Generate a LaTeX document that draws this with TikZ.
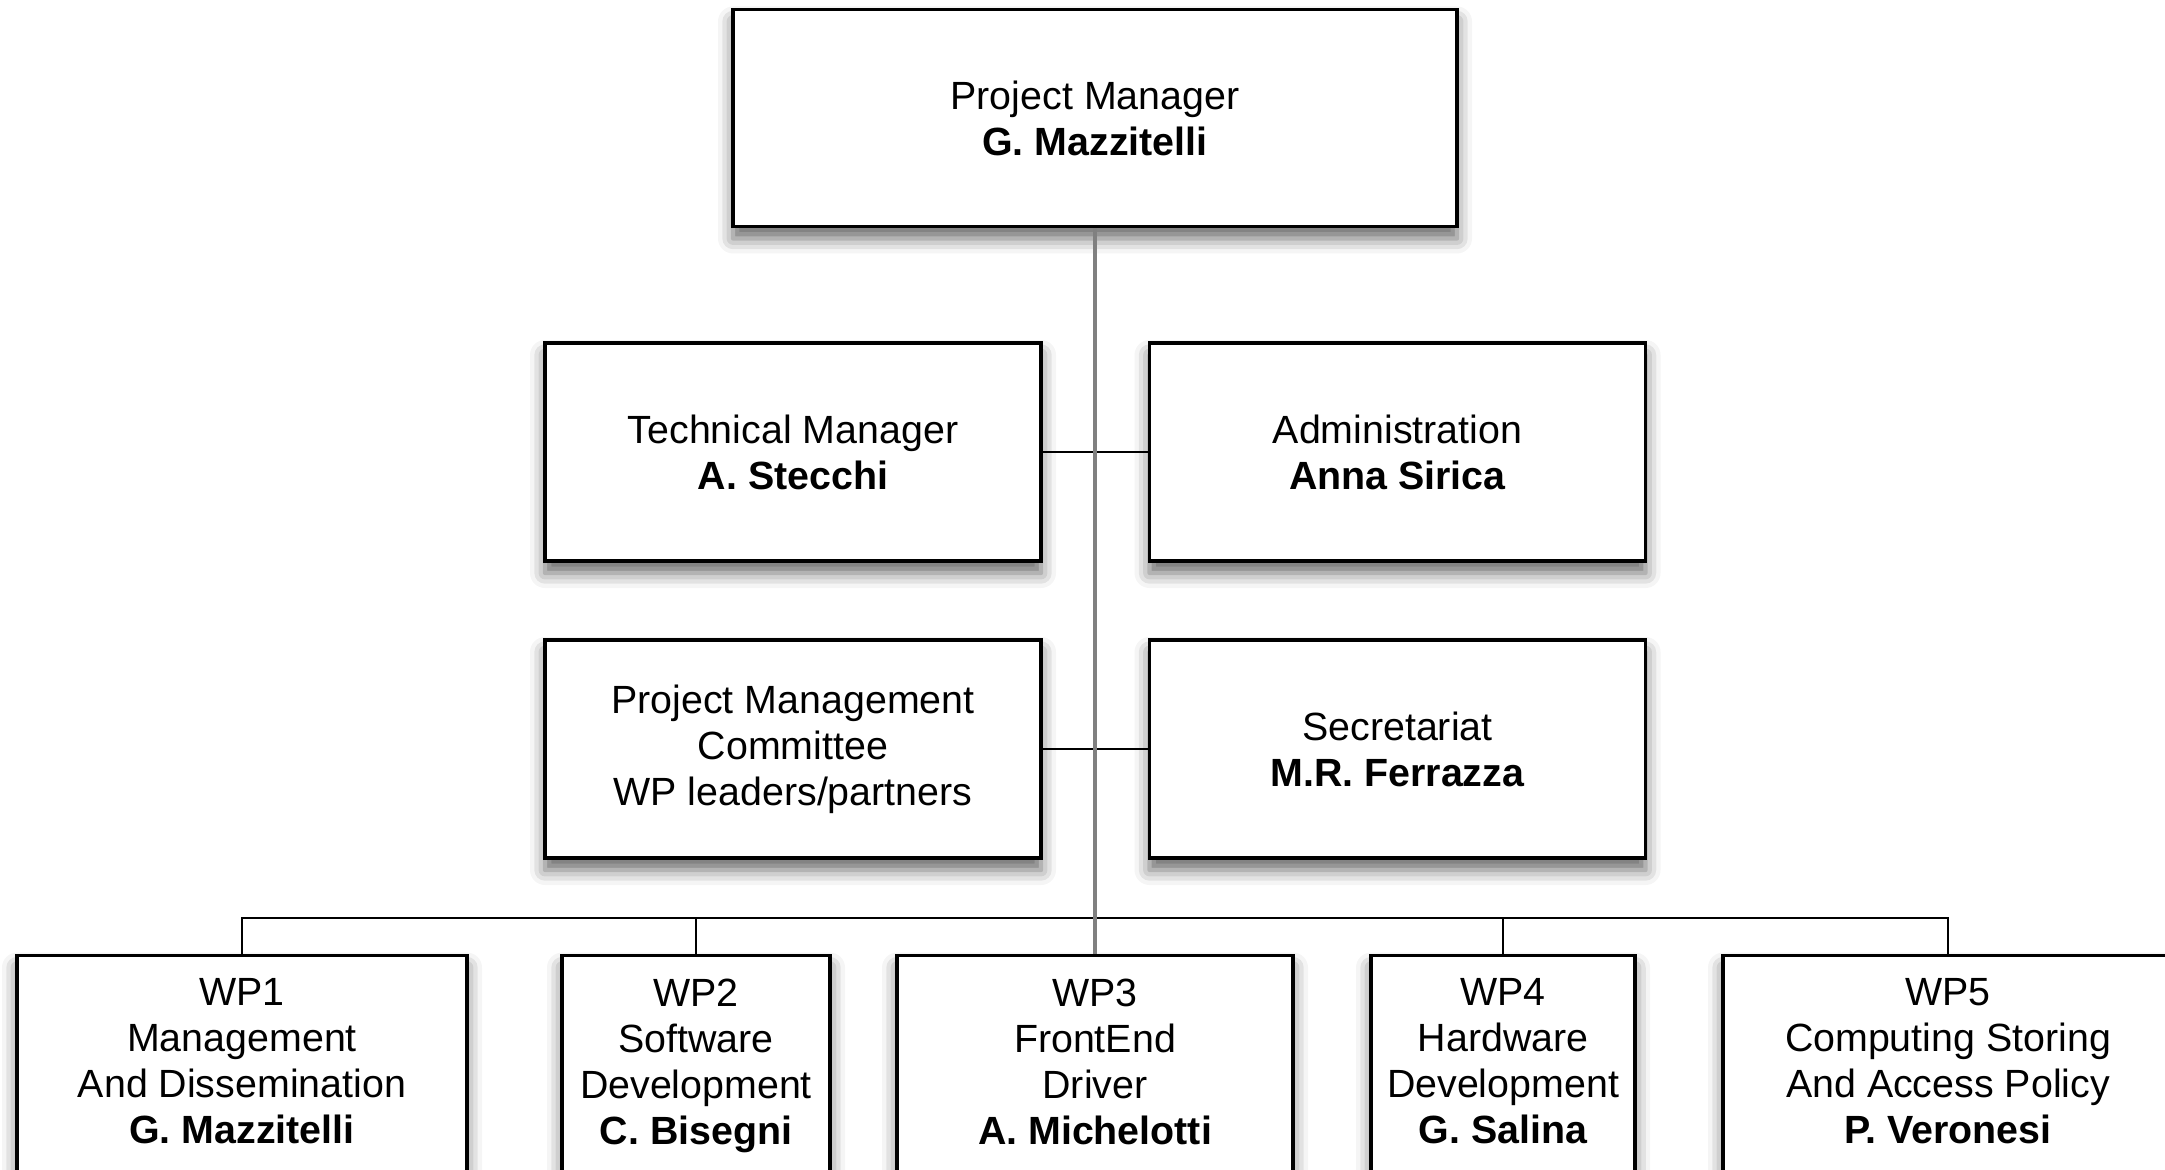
\documentclass[tikz,border=0pt]{standalone}
\usepackage{fontspec}
\setmainfont{Liberation Sans}
\usetikzlibrary{shadows.blur}

\begin{document}
\begin{tikzpicture}[
		box/.style={rectangle, draw, line width=0.9pt, fill=white, align=center,
				font=\fontsize{11.2}{13.1}\selectfont,
				blur shadow={shadow xshift=0pt, shadow yshift=-0.12cm,
						shadow blur radius=0.15cm, shadow opacity=60}},
		midbox/.style={box, minimum width=4.96cm, minimum height=2.18cm},
		wpbox/.style={box, anchor=north, inner ysep=0.23cm, text depth=2.4cm},
		link/.style={line width=0.8pt},
		trunk/.style={line width=1.2pt, black!50}
	]
	\path[use as bounding box, clip] (0,0) rectangle (21.65,-11.70);

	\node[box, minimum width=7.24cm, minimum height=2.17cm] (pm) at (10.95,-1.18)
		{Project Manager\\\textbf{G. Mazzitelli}};

	\node[midbox] (tech) at (7.93,-4.52) {Technical Manager\\\textbf{A. Stecchi}};
	\node[midbox] (admin) at (13.975,-4.52) {Administration\\\textbf{Anna Sirica}};
	\node[midbox] (pmc) at (7.93,-7.49) {Project Management\\Committee\\WP leaders/partners};
	\node[midbox] (secr) at (13.975,-7.49) {Secretariat\\\textbf{M.R. Ferrazza}};

	\node[wpbox, minimum width=4.50cm] (wp1) at (2.42,-9.54)
		{WP1\\Management\\And Dissemination\\\textbf{G. Mazzitelli}};
	\node[wpbox, minimum width=2.68cm] (wp2) at (6.96,-9.54)
		{WP2\\Software\\Development\\\textbf{C. Bisegni}};
	\node[wpbox, minimum width=3.96cm] (wp3) at (10.95,-9.54)
		{WP3\\FrontEnd\\Driver\\\textbf{A. Michelotti}};
	\node[wpbox, minimum width=2.64cm] (wp4) at (15.03,-9.54)
		{WP4\\Hardware\\Development\\\textbf{G. Salina}};
	\node[wpbox, minimum width=4.50cm] (wp5) at (19.48,-9.54)
		{WP5\\Computing Storing\\And Access Policy\\\textbf{P. Veronesi}};

	% connectors
	\coordinate (bus) at (10.95,-9.18);
	\draw[link] (tech.east) -- (admin.west);
	\draw[link] (pmc.east) -- (secr.west);
	\draw[link] (wp1.north) |- (bus) -| (wp5.north);
	\draw[link] (wp2.north) -- (wp2.north |- bus);
	\draw[link] (wp4.north) -- (wp4.north |- bus);
	\draw[trunk] (pm.south) -- (wp3.north);
\end{tikzpicture}
\end{document}
